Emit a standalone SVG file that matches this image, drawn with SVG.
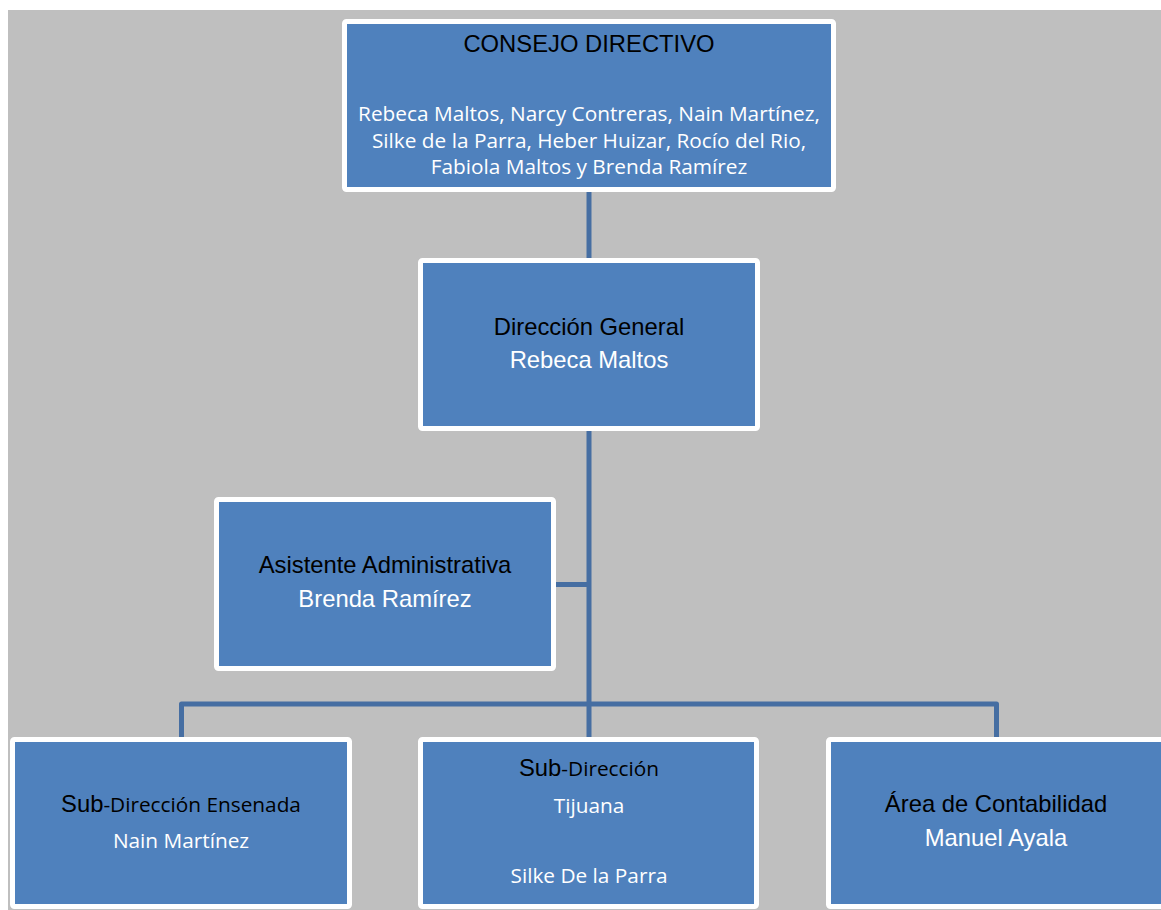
<svg xmlns="http://www.w3.org/2000/svg" width="1161" height="910" viewBox="0 0 1161 910">
<style>
.box{fill:#4f81bd;stroke:#ffffff;stroke-width:5}
.conn{fill:none;stroke:#466ea2;stroke-width:5;stroke-linejoin:round}
.a{font-family:"Liberation Sans",Arial,sans-serif;font-size:23.8px;text-anchor:middle}
.c{font-family:"Open Sans","Noto Sans",sans-serif;font-size:20.8px;text-anchor:middle}
.k{fill:#000000}
.w{fill:#ffffff}
</style>
<rect x="8" y="10" width="1153" height="900" fill="#bfbfbf"/>
<g id="connectors">
<path class="conn" d="M589 192 V258"/>
<path class="conn" d="M589 431 V737"/>
<path class="conn" d="M556 584.5 H589"/>
<path class="conn" d="M181.5 737 V704 H996.5 V737"/>
</g>
<g id="consejo">
<rect class="box" x="344.5" y="21.5" width="489" height="168" rx="2"/>
<text class="a k" x="589" y="52">CONSEJO DIRECTIVO</text>
<text class="c w" x="589" y="121">Rebeca Maltos, Narcy Contreras, Nain Martínez,</text>
<text class="c w" x="589" y="147.5">Silke de la Parra, Heber Huizar, Rocío del Rio,</text>
<text class="c w" x="589" y="174">Fabiola Maltos y Brenda Ramírez</text>
</g>
<g id="direccion">
<rect class="box" x="420.5" y="260.5" width="337" height="168" rx="2"/>
<text class="a k" x="589" y="335">Dirección General</text>
<text class="a w" x="589" y="368">Rebeca Maltos</text>
</g>
<g id="asistente">
<rect class="box" x="216.5" y="499.5" width="337" height="169" rx="2"/>
<text class="a k" x="385" y="573">Asistente Administrativa</text>
<text class="a w" x="385" y="607">Brenda Ramírez</text>
</g>
<g id="ensenada">
<rect class="box" x="12.5" y="739.5" width="337" height="167" rx="2"/>
<text class="k" x="181" y="812" text-anchor="middle"><tspan style="font-family:'Liberation Sans',Arial,sans-serif;font-size:23.8px">Sub</tspan><tspan style="font-family:'Open Sans','Noto Sans',sans-serif;font-size:20.8px">-Dirección Ensenada</tspan></text>
<text class="c w" x="181" y="848">Nain Martínez</text>
</g>
<g id="tijuana">
<rect class="box" x="420.5" y="739.5" width="336" height="167" rx="2"/>
<text class="k" x="589" y="776" text-anchor="middle"><tspan style="font-family:'Liberation Sans',Arial,sans-serif;font-size:23.8px">Sub</tspan><tspan style="font-family:'Open Sans','Noto Sans',sans-serif;font-size:20.8px">-Dirección</tspan></text>
<text class="c w" x="589" y="813">Tijuana</text>
<text class="c w" x="589" y="883">Silke De la Parra</text>
</g>
<g id="contabilidad">
<rect class="box" x="828.5" y="739.5" width="337" height="167" rx="2"/>
<text class="a k" x="996" y="812">Área de Contabilidad</text>
<text class="a w" x="996" y="846">Manuel Ayala</text>
</g>
</svg>
